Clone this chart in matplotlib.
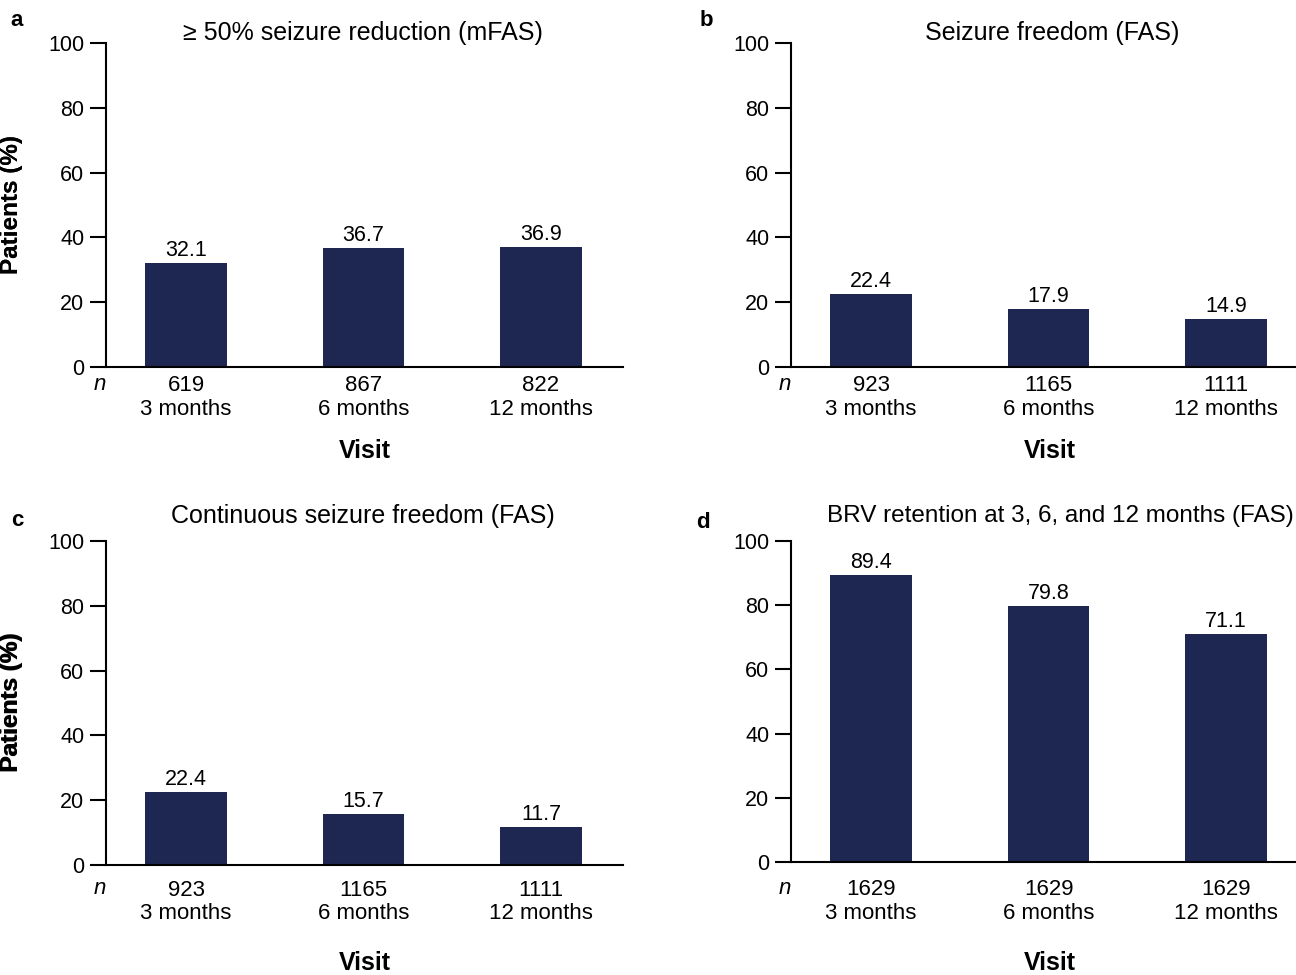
import matplotlib
matplotlib.use("Agg")
import matplotlib.pyplot as plt

plt.rcParams['font.family'] = ['Liberation Sans', 'DejaVu Sans']

visits = ["3 months", "6 months", "12 months"]

titles = [
    "\u2265 50% seizure reduction (mFAS)",
    "Seizure freedom (FAS)",
    "Continuous seizure freedom (FAS)",
    "BRV retention at 3, 6, and 12 months (FAS)",
]
panel_letters = ["a", "b", "c", "d"]

values_a = [32.1, 36.7, 36.9]
values_b = [22.4, 17.9, 14.9]
values_c = [22.4, 15.7, 11.7]
values_d = [89.4, 79.8, 71.1]

n_a = [619, 867, 822]
n_b = [923, 1165, 1111]
n_c = [923, 1165, 1111]
n_d = [1629, 1629, 1629]

yticks = [0, 20, 40, 60, 80, 100]

bar_color = "#1e2752"
W, H = 1296, 975
fig = plt.figure(figsize=(W / 100, H / 100), dpi=100)

# axes boxes in pixels: (left, right, top, bottom)
boxes = [
    (106, 623, 43, 367),
    (791, 1308, 43, 367),
    (106, 623, 541, 865),
    (791, 1308, 541, 862),
]
letter_pos = [(17, 21), (706, 21), (17, 521), (703, 522)]
title_x = [363, 1052, 363, None]
tick_pad = [6, 6, 10.5, 12.5]      # points
n_off = [18, 18, 24, 26]           # pixels below axis
visit_off = [84, 84, 98, 101]      # pixels below axis
datasets = [(values_a, n_a), (values_b, n_b), (values_c, n_c), (values_d, n_d)]

fs_tick = 16
fs_ytick = 15.5
fs_val = 15.5
fs_title = 18
fs_lab = 17.5

for i, ((l, r, t, b), (vals, ns)) in enumerate(zip(boxes, datasets)):
    ax = fig.add_axes([l / W, 1 - b / H, (r - l) / W, (b - t) / H])
    x = list(range(len(vals)))
    ax.bar(x, vals, width=0.46, color=bar_color, zorder=2)
    for xi, v in zip(x, vals):
        ax.annotate(f"{v:.1f}", (xi, v), xytext=(0, 1.5), textcoords="offset points",
                    ha="center", va="bottom", fontsize=fs_val)
    ax.set_xlim(-0.451, 2.462)
    ax.set_ylim(0, 100)
    ax.set_yticks(yticks)
    ax.set_xticks(x)
    ax.set_xticklabels([f"{n}\n{v}" for n, v in zip(ns, visits)], fontsize=fs_tick,
                       linespacing=1.15)
    ax.tick_params(axis="x", length=0, pad=tick_pad[i])
    ax.tick_params(axis="y", length=11.5, width=1.5, pad=4, labelsize=fs_ytick)
    for s in ["top", "right"]:
        ax.spines[s].set_visible(False)
    ax.spines["left"].set_linewidth(1.5)
    ax.spines["bottom"].set_linewidth(1.5)
    ax.set_ylabel("Patients (%)", fontsize=fs_lab, fontweight="bold")
    ax.yaxis.set_label_coords((23 - l) / (r - l), 0.5)
    ax.text(-6 / (r - l), -n_off[i] / (b - t), "n", style="italic", fontsize=fs_tick,
            ha="center", va="center", transform=ax.transAxes)
    ax.text(0.5, -visit_off[i] / (b - t), "Visit", fontsize=fs_title, fontweight="bold",
            ha="center", va="center", transform=ax.transAxes)
    ty = 33 if i < 2 else 516
    if i == 3:
        ax.text((1294 - l) / (r - l), 1 + (t - ty) / (b - t), titles[i], fontsize=17.5,
                ha="right", va="center", transform=ax.transAxes)
    else:
        ax.text((title_x[i] - l) / (r - l), 1 + (t - ty) / (b - t), titles[i],
                fontsize=fs_title, ha="center", va="center", transform=ax.transAxes)
    lx, ly = letter_pos[i]
    fig.text(lx / W, 1 - ly / H, panel_letters[i], fontsize=16, fontweight="bold",
             ha="center", va="center")

fig.savefig("out.png", dpi=100)
